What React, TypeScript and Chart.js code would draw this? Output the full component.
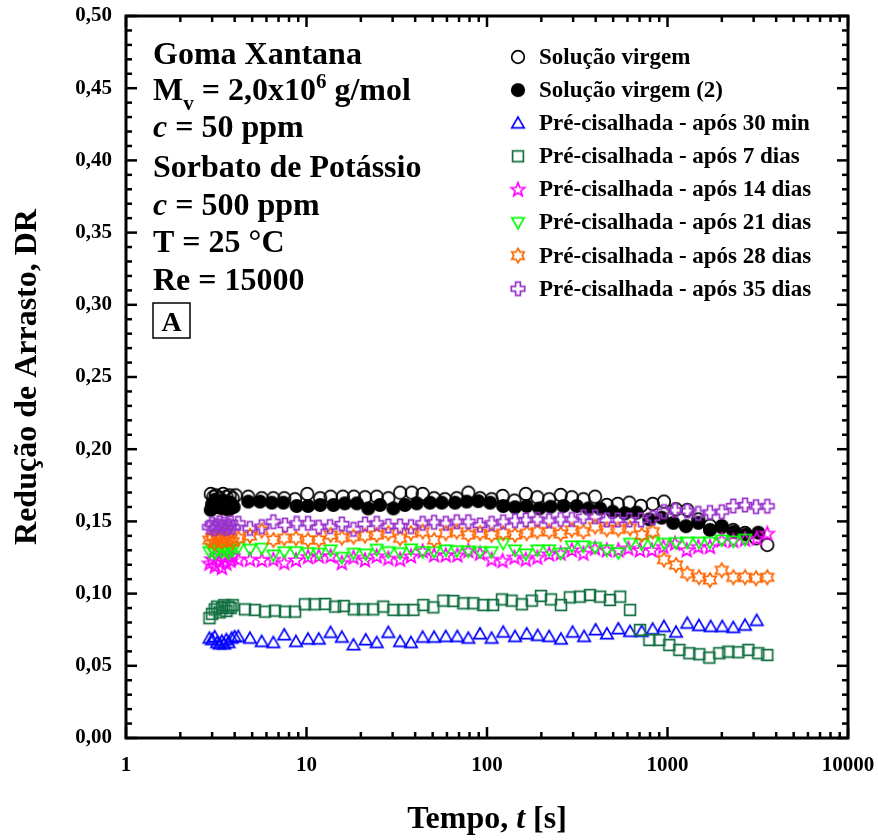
import React, { useEffect, useRef } from "react";
import { Chart, registerables } from "chart.js";
Chart.register(...registerables);

const FONT = '"Liberation Serif", "Times New Roman", serif';

const xLabelTicks = [1, 10, 100, 1000, 10000];
const yMin = 0;
const yMax = 0.5;
const yStep = 0.05;

const seriesLabels = [
  "Solução virgem",
  "Solução virgem (2)",
  "Pré-cisalhada - após 30 min",
  "Pré-cisalhada - após 7 dias",
  "Pré-cisalhada - após 14 dias",
  "Pré-cisalhada - após 21 dias",
  "Pré-cisalhada - após 28 dias",
  "Pré-cisalhada - após 35 dias",
];

const virgemT = [2.95, 3.05, 3.15, 3.3, 3.45, 3.6, 3.75, 3.9, 4.05, 4.76, 5.65, 6.55, 7.53, 8.64, 10.1, 11.9, 13.6, 15.9, 18.3, 21.1, 24.5, 28.4, 33.0, 38.3, 44.0, 50.9, 58.5, 68.0, 78.8, 91.5, 106, 122, 142, 164, 190, 221, 256, 295, 342, 397, 461, 530, 614, 713, 828, 956, 1115, 1287, 1481, 1719, 1997, 2315, 2688, 3093, 3572];
const virgemDR = [0.169, 0.167, 0.168, 0.166, 0.169, 0.167, 0.168, 0.166, 0.168, 0.1671, 0.166, 0.166, 0.166, 0.1653, 0.169, 0.166, 0.1671, 0.1671, 0.1671, 0.1667, 0.1671, 0.166, 0.1699, 0.1699, 0.169, 0.166, 0.1653, 0.166, 0.1699, 0.166, 0.1653, 0.1676, 0.1644, 0.169, 0.1667, 0.1653, 0.1683, 0.1667, 0.1653, 0.1671, 0.1614, 0.1621, 0.163, 0.1607, 0.1621, 0.1637, 0.1584, 0.1579, 0.1514, 0.147, 0.146, 0.144, 0.142, 0.1383, 0.1337];

const virgem2T = [2.95, 3.0, 3.1, 3.2, 3.3, 3.4, 3.5, 3.6, 3.7, 3.8, 3.95, 4.76, 5.53, 6.42, 7.44, 8.82, 10.2, 11.9, 14.1, 16.3, 19.0, 22.0, 25.5, 30.3, 35.1, 40.8, 48.3, 56.1, 66.5, 77.2, 89.5, 104, 123, 143, 166, 195, 225, 265, 314, 364, 423, 497, 581, 675, 793, 929, 1077, 1266, 1481, 1719, 1997, 2336, 2722, 3185];
const virgem2DR = [0.158, 0.162, 0.165, 0.160, 0.163, 0.159, 0.164, 0.161, 0.158, 0.163, 0.160, 0.1637, 0.1637, 0.163, 0.163, 0.1607, 0.1607, 0.1614, 0.1614, 0.1625, 0.1625, 0.159, 0.1614, 0.159, 0.1614, 0.1625, 0.163, 0.163, 0.163, 0.1637, 0.164, 0.163, 0.1607, 0.1598, 0.1607, 0.159, 0.1602, 0.1607, 0.1607, 0.159, 0.159, 0.1567, 0.1556, 0.1561, 0.1514, 0.1526, 0.149, 0.1467, 0.149, 0.1441, 0.1468, 0.1429, 0.141, 0.1422];

const min30T = [2.9, 3.0, 3.1, 3.2, 3.3, 3.4, 3.5, 3.6, 3.7, 3.85, 4.0, 4.19, 4.86, 5.65, 6.55, 7.53, 8.74, 10.2, 11.7, 13.6, 15.7, 18.2, 21.3, 24.5, 28.4, 33.0, 37.9, 44.0, 50.9, 59.1, 68.5, 78.8, 91.5, 106, 123, 143, 166, 191, 221, 257, 298, 345, 400, 462, 534, 620, 720, 828, 956, 1115, 1287, 1494, 1735, 2012, 2315, 2688, 3121];
const min30DR = [0.069, 0.068, 0.070, 0.066, 0.065, 0.067, 0.065, 0.068, 0.066, 0.069, 0.070, 0.0702, 0.069, 0.0667, 0.066, 0.0713, 0.0667, 0.0684, 0.0684, 0.073, 0.0697, 0.0644, 0.0679, 0.066, 0.073, 0.0667, 0.066, 0.0697, 0.0697, 0.0702, 0.0702, 0.069, 0.072, 0.069, 0.0732, 0.0702, 0.072, 0.0709, 0.0702, 0.0684, 0.0732, 0.0702, 0.0748, 0.072, 0.0755, 0.0737, 0.0737, 0.0753, 0.0771, 0.0732, 0.0794, 0.0778, 0.0771, 0.0771, 0.0764, 0.078, 0.0813];

const d7T = [2.9, 3.0, 3.1, 3.2, 3.3, 3.4, 3.5, 3.6, 3.7, 3.8, 3.9, 4.56, 5.18, 5.89, 6.69, 7.60, 8.64, 9.81, 11.1, 12.7, 14.4, 16.1, 18.3, 20.6, 23.4, 26.6, 30.3, 34.4, 39.1, 44.4, 50.4, 57.3, 65.1, 73.9, 84.0, 95.4, 108, 121, 137, 156, 177, 199, 226, 257, 288, 327, 372, 423, 480, 546, 620, 704, 793, 901, 1023, 1163, 1321, 1500, 1704, 1936, 2172, 2468, 2804, 3185, 3572];
const d7DR = [0.083, 0.086, 0.089, 0.091, 0.087, 0.090, 0.092, 0.088, 0.091, 0.090, 0.092, 0.0891, 0.0887, 0.0875, 0.0882, 0.0875, 0.0875, 0.0926, 0.0926, 0.0928, 0.091, 0.0914, 0.0891, 0.0891, 0.0891, 0.091, 0.0887, 0.0887, 0.0887, 0.0921, 0.0905, 0.0951, 0.0949, 0.0933, 0.0933, 0.0921, 0.0921, 0.096, 0.0951, 0.0926, 0.0951, 0.0984, 0.096, 0.0921, 0.0974, 0.0979, 0.099, 0.0979, 0.0956, 0.0979, 0.0887, 0.0748, 0.0679, 0.0679, 0.0644, 0.061, 0.0587, 0.058, 0.0557, 0.0587, 0.0598, 0.0594, 0.061, 0.0587, 0.0575];

const d14T = [2.9, 3.0, 3.1, 3.2, 3.3, 3.4, 3.5, 3.6, 3.7, 3.8, 3.9, 4.19, 4.86, 5.65, 6.55, 7.53, 8.74, 10.2, 11.7, 13.6, 15.7, 18.2, 21.1, 24.5, 28.4, 33.0, 37.9, 44.0, 50.9, 59.1, 68.5, 78.8, 91.5, 106, 122, 142, 164, 190, 221, 256, 295, 342, 397, 461, 534, 607, 704, 818, 948, 1101, 1278, 1481, 1719, 1997, 2315, 2688, 3121, 3572];
const d14DR = [0.121, 0.124, 0.119, 0.126, 0.122, 0.118, 0.125, 0.121, 0.127, 0.123, 0.126, 0.1237, 0.1237, 0.1233, 0.1237, 0.1214, 0.1233, 0.1256, 0.126, 0.126, 0.1214, 0.1251, 0.1233, 0.126, 0.1244, 0.1237, 0.126, 0.1295, 0.1267, 0.1267, 0.1267, 0.1297, 0.1279, 0.1237, 0.1228, 0.1251, 0.1237, 0.1251, 0.1274, 0.1279, 0.1302, 0.1279, 0.1314, 0.1302, 0.1302, 0.1314, 0.1302, 0.1302, 0.1325, 0.1348, 0.1302, 0.1325, 0.1325, 0.1371, 0.1367, 0.1376, 0.1383, 0.1417];

const d21T = [2.9, 3.0, 3.1, 3.2, 3.3, 3.4, 3.5, 3.6, 3.7, 3.8, 3.9, 4.19, 4.86, 5.65, 6.55, 7.53, 8.74, 10.2, 11.7, 13.6, 15.7, 18.2, 21.3, 24.5, 28.4, 33.0, 37.9, 44.0, 50.9, 59.1, 68.0, 78.8, 91.5, 106, 123, 143, 164, 190, 221, 256, 295, 342, 397, 461, 534, 620, 720, 828, 960, 1115, 1287, 1494, 1719, 1997, 2315, 2688];
const d21DR = [0.129, 0.131, 0.128, 0.130, 0.132, 0.129, 0.131, 0.130, 0.128, 0.131, 0.130, 0.132, 0.1307, 0.1314, 0.1267, 0.129, 0.129, 0.1283, 0.1279, 0.1302, 0.1251, 0.1279, 0.1274, 0.1307, 0.129, 0.1283, 0.1309, 0.129, 0.129, 0.1302, 0.1297, 0.1295, 0.129, 0.129, 0.1348, 0.1302, 0.1274, 0.1302, 0.1302, 0.1279, 0.133, 0.133, 0.132, 0.1302, 0.1283, 0.1348, 0.1343, 0.136, 0.1348, 0.1353, 0.1356, 0.1356, 0.1356, 0.1371, 0.1364, 0.1376];

const d28T = [2.9, 3.0, 3.1, 3.2, 3.3, 3.4, 3.5, 3.6, 3.7, 3.8, 3.9, 4.19, 4.86, 5.65, 6.55, 7.53, 8.74, 10.2, 11.7, 13.6, 15.7, 18.2, 21.1, 24.5, 28.4, 33.0, 37.9, 44.0, 50.9, 59.1, 68.0, 78.8, 91.5, 106, 123, 143, 166, 190, 221, 256, 295, 342, 397, 461, 534, 620, 720, 828, 956, 1115, 1287, 1494, 1719, 1997, 2315, 2688, 3093, 3572];
const d28DR = [0.137, 0.139, 0.135, 0.138, 0.140, 0.136, 0.139, 0.137, 0.141, 0.138, 0.136, 0.1383, 0.1399, 0.1436, 0.1371, 0.1383, 0.1383, 0.1371, 0.1371, 0.1406, 0.1387, 0.1394, 0.1401, 0.1406, 0.1418, 0.1383, 0.1418, 0.1429, 0.1371, 0.1418, 0.1429, 0.1406, 0.1418, 0.1406, 0.1418, 0.1406, 0.1418, 0.1429, 0.1429, 0.1413, 0.1441, 0.1429, 0.1464, 0.1445, 0.1445, 0.1452, 0.1406, 0.1429, 0.1235, 0.1198, 0.1138, 0.1113, 0.1094, 0.1161, 0.1113, 0.1113, 0.1106, 0.1113];

const d35T = [2.9, 3.0, 3.1, 3.2, 3.3, 3.4, 3.5, 3.6, 3.7, 3.8, 3.9, 4.19, 4.86, 5.65, 6.55, 7.60, 8.82, 10.2, 11.7, 13.5, 15.7, 18.2, 21.1, 24.5, 28.4, 33.0, 37.9, 44.0, 50.9, 59.1, 68.0, 78.8, 91.5, 106, 123, 143, 164, 190, 221, 256, 295, 342, 397, 461, 530, 614, 713, 828, 956, 1100, 1287, 1481, 1719, 1997, 2315, 2688, 3093, 3572];
const d35DR = [0.146, 0.148, 0.145, 0.147, 0.149, 0.146, 0.148, 0.145, 0.147, 0.149, 0.146, 0.1487, 0.1452, 0.1464, 0.1498, 0.1475, 0.1487, 0.1487, 0.146, 0.1464, 0.1482, 0.1445, 0.1482, 0.1487, 0.1468, 0.1468, 0.1464, 0.1487, 0.1494, 0.1487, 0.1498, 0.1498, 0.1475, 0.1487, 0.1498, 0.1505, 0.151, 0.1514, 0.1505, 0.1514, 0.1514, 0.1533, 0.1533, 0.151, 0.151, 0.151, 0.151, 0.1525, 0.1568, 0.1577, 0.1572, 0.1556, 0.1562, 0.1567, 0.1607, 0.1614, 0.1602, 0.1605];

const seriesT = [virgemT, virgem2T, min30T, d7T, d14T, d21T, d28T, d35T];
const seriesDR = [virgemDR, virgem2DR, min30DR, d7DR, d14DR, d21DR, d28DR, d35DR];
const seriesShapes = ["circle", "disc", "triUp", "square", "star5", "triDown", "star6", "plus"];
const seriesColors = ["#000000", "#000000", "#0000FF", "#137040", "#FF00FF", "#00FF00", "#FF6600", "#9933CC"];

function makeMarker(kind: string, color: string): HTMLCanvasElement {
  const s = 20;
  const cv = document.createElement("canvas");
  cv.width = s;
  cv.height = s;
  const ctx = cv.getContext("2d")!;
  const c = s / 2;
  ctx.strokeStyle = color;
  ctx.fillStyle = color;
  ctx.lineWidth = 1.7;
  ctx.lineJoin = "miter";
  ctx.beginPath();
  const poly = (pts: number[][]) => {
    pts.forEach((p, i) => (i === 0 ? ctx.moveTo(c + p[0], c + p[1]) : ctx.lineTo(c + p[0], c + p[1])));
    ctx.closePath();
    ctx.stroke();
  };
  if (kind === "circle") {
    ctx.arc(c, c, 6.3, 0, Math.PI * 2);
    ctx.stroke();
  } else if (kind === "disc") {
    ctx.arc(c, c, 7.1, 0, Math.PI * 2);
    ctx.fill();
  } else if (kind === "triUp") {
    poly([[0, -6.2], [6.2, 4.6], [-6.2, 4.6]]);
  } else if (kind === "triDown") {
    poly([[-6.2, -4.6], [6.2, -4.6], [0, 6.2]]);
  } else if (kind === "square") {
    ctx.rect(c - 5.4, c - 5.4, 10.8, 10.8);
    ctx.stroke();
  } else if (kind === "star5") {
    const pts: number[][] = [];
    for (let i = 0; i < 10; i++) {
      const r = i % 2 ? 3.1 : 7.2;
      const a = -Math.PI / 2 + (i * Math.PI) / 5;
      pts.push([r * Math.cos(a), r * Math.sin(a) + 0.5]);
    }
    poly(pts);
  } else if (kind === "star6") {
    const pts: number[][] = [];
    for (let i = 0; i < 12; i++) {
      const r = i % 2 ? 4.2 : 7.2;
      const a = -Math.PI / 2 + (i * Math.PI) / 6;
      pts.push([r * Math.cos(a), r * Math.sin(a)]);
    }
    poly(pts);
  } else if (kind === "plus") {
    const w = 2.4;
    const L = 6.7;
    poly([[-w, -L], [w, -L], [w, -w], [L, -w], [L, w], [w, w], [w, L], [-w, L], [-w, w], [-L, w], [-L, -w], [-w, -w]]);
  }
  return cv;
}

const B = (sz: number) => `bold ${sz}px ${FONT}`;
const BI = (sz: number) => `italic bold ${sz}px ${FONT}`;

function drawRuns(ctx: CanvasRenderingContext2D, runs: [string, string, number][], x: number, y: number) {
  let cx = x;
  for (const [text, font, dy] of runs) {
    ctx.font = font;
    ctx.fillText(text, cx, y + dy);
    cx += ctx.measureText(text).width;
  }
}

function runsWidth(ctx: CanvasRenderingContext2D, runs: [string, string, number][]) {
  let w = 0;
  for (const [text, font] of runs) {
    ctx.font = font;
    w += ctx.measureText(text).width;
  }
  return w;
}

function zeroPadding(s: any) {
  s.paddingTop = 0;
  s.paddingBottom = 0;
  s.paddingLeft = 0;
  s.paddingRight = 0;
}

export default function App() {
  const ref = useRef<HTMLCanvasElement | null>(null);

  useEffect(() => {
    if (!ref.current) return;
    const markers = seriesShapes.map((s, i) => makeMarker(s, seriesColors[i]));

    const datasets = seriesLabels.map((label, i) => ({
      label,
      data: seriesT[i].map((t, k) => ({ x: t, y: seriesDR[i][k] })).filter((p) => p.y !== undefined),
      pointStyle: markers[i] as any,
      pointRadius: 6,
      showLine: false,
      order: -i,
    }));

    const decorPlugin = {
      id: "decor",
      afterDraw(chart: any) {
        const { ctx, chartArea: a, scales } = chart;
        const xs = scales.x;
        const ys = scales.y;
        ctx.save();
        ctx.strokeStyle = "#000";
        ctx.lineCap = "butt";
        ctx.lineWidth = 2.5;
        const seg = (x1: number, y1: number, x2: number, y2: number) => {
          ctx.beginPath();
          ctx.moveTo(x1, y1);
          ctx.lineTo(x2, y2);
          ctx.stroke();
        };
        for (const d of xLabelTicks) {
          for (let m = 1; m < 10; m++) {
            const v = d * m;
            if (v > xLabelTicks[xLabelTicks.length - 1]) break;
            const px = xs.getPixelForValue(v);
            const len = m === 1 ? 11 : 6;
            seg(px, a.bottom, px, a.bottom - len);
            seg(px, a.top, px, a.top + len);
          }
        }
        const nMinor = Math.round((yMax - yMin) / (yStep / 5));
        for (let i = 0; i <= nMinor; i++) {
          const v = yMin + (i * yStep) / 5;
          const py = ys.getPixelForValue(v);
          const len = i % 5 === 0 ? 11 : 6;
          seg(a.left, py, a.left + len, py);
          seg(a.right, py, a.right - len, py);
        }
        ctx.lineWidth = 3;
        ctx.strokeRect(a.left, a.top, a.right - a.left, a.bottom - a.top);

        ctx.fillStyle = "#000";
        ctx.textAlign = "left";
        ctx.textBaseline = "alphabetic";
        const x0 = 153;
        drawRuns(ctx, [["Goma Xantana", B(32), 0]], x0, 64);
        drawRuns(ctx, [["M", B(32), 0], ["v", B(21), 10], [" = 2,0x10", B(32), 0], ["6", B(21), -12], [" g/mol", B(32), 0]], x0, 100);
        drawRuns(ctx, [["c", BI(32), 0], [" = 50 ppm", B(32), 0]], x0, 137);
        drawRuns(ctx, [["Sorbato de Potássio", B(32), 0]], x0, 177);
        drawRuns(ctx, [["c", BI(32), 0], [" = 500 ppm", B(32), 0]], x0, 215);
        drawRuns(ctx, [["T = 25 °C", B(32), 0]], x0, 252);
        drawRuns(ctx, [["Re = 15000", B(32), 0]], x0, 290);
        ctx.lineWidth = 1.5;
        ctx.strokeRect(153, 303, 37, 35);
        ctx.font = B(28);
        ctx.textAlign = "center";
        ctx.fillText("A", 171.5, 331);

        ctx.textAlign = "left";
        ctx.textBaseline = "middle";
        ctx.font = B(23);
        chart.data.datasets.forEach((ds: any, i: number) => {
          const y = 57 + i * 33.1;
          const m = markers[i];
          ctx.drawImage(m, 518 - m.width / 2, y - m.height / 2);
          ctx.fillText(ds.label, 539, y + 1);
        });

        ctx.textBaseline = "alphabetic";
        const xt: [string, string, number][] = [["Tempo, ", B(32), 0], ["t", BI(32), 0], [" [s]", B(32), 0]];
        const w = runsWidth(ctx, xt);
        ctx.textAlign = "left";
        drawRuns(ctx, xt, (a.left + a.right) / 2 - w / 2, 828);
        ctx.save();
        ctx.translate(36, (a.top + a.bottom) / 2);
        ctx.rotate(-Math.PI / 2);
        ctx.textAlign = "center";
        ctx.font = B(32);
        ctx.fillText("Redução de Arrasto, DR", 0, 0);
        ctx.restore();
        ctx.restore();
      },
    };

    const chart = new Chart(ref.current, {
      type: "scatter",
      data: { datasets },
      options: {
        animation: false,
        responsive: false,
        devicePixelRatio: 1,
        events: [],
        layout: { padding: { top: 16, right: 30, left: 0, bottom: 0 } },
        plugins: { legend: { display: false }, tooltip: { enabled: false } },
        scales: {
          x: {
            type: "logarithmic",
            min: xLabelTicks[0],
            max: xLabelTicks[xLabelTicks.length - 1],
            grid: { display: false, drawTicks: false },
            border: { display: false },
            afterBuildTicks: (s: any) => {
              s.ticks = xLabelTicks.map((v) => ({ value: v }));
            },
            afterFit: (s: any) => {
              s.height = 102;
              zeroPadding(s);
            },
            ticks: {
              autoSkip: false,
              maxRotation: 0,
              padding: 15,
              color: "#000",
              font: { family: FONT, size: 21, weight: "bold" },
              callback: (v: any) => String(v),
            },
          },
          y: {
            type: "linear",
            min: yMin,
            max: yMax,
            grid: { display: false, drawTicks: false },
            border: { display: false },
            afterFit: (s: any) => {
              s.width = 126;
              zeroPadding(s);
            },
            ticks: {
              stepSize: yStep,
              padding: 14,
              color: "#000",
              font: { family: FONT, size: 21, weight: "bold" },
              callback: (v: any) => Number(v).toFixed(2).replace(".", ","),
            },
          },
        },
      } as any,
      plugins: [decorPlugin],
    });
    return () => chart.destroy();
  }, []);

  return (
    <div style={{ position: "absolute", left: 0, top: 0, width: 878, height: 840, background: "#fff" }}>
      <canvas ref={ref} width={878} height={840} style={{ display: "block" }} />
    </div>
  );
}
